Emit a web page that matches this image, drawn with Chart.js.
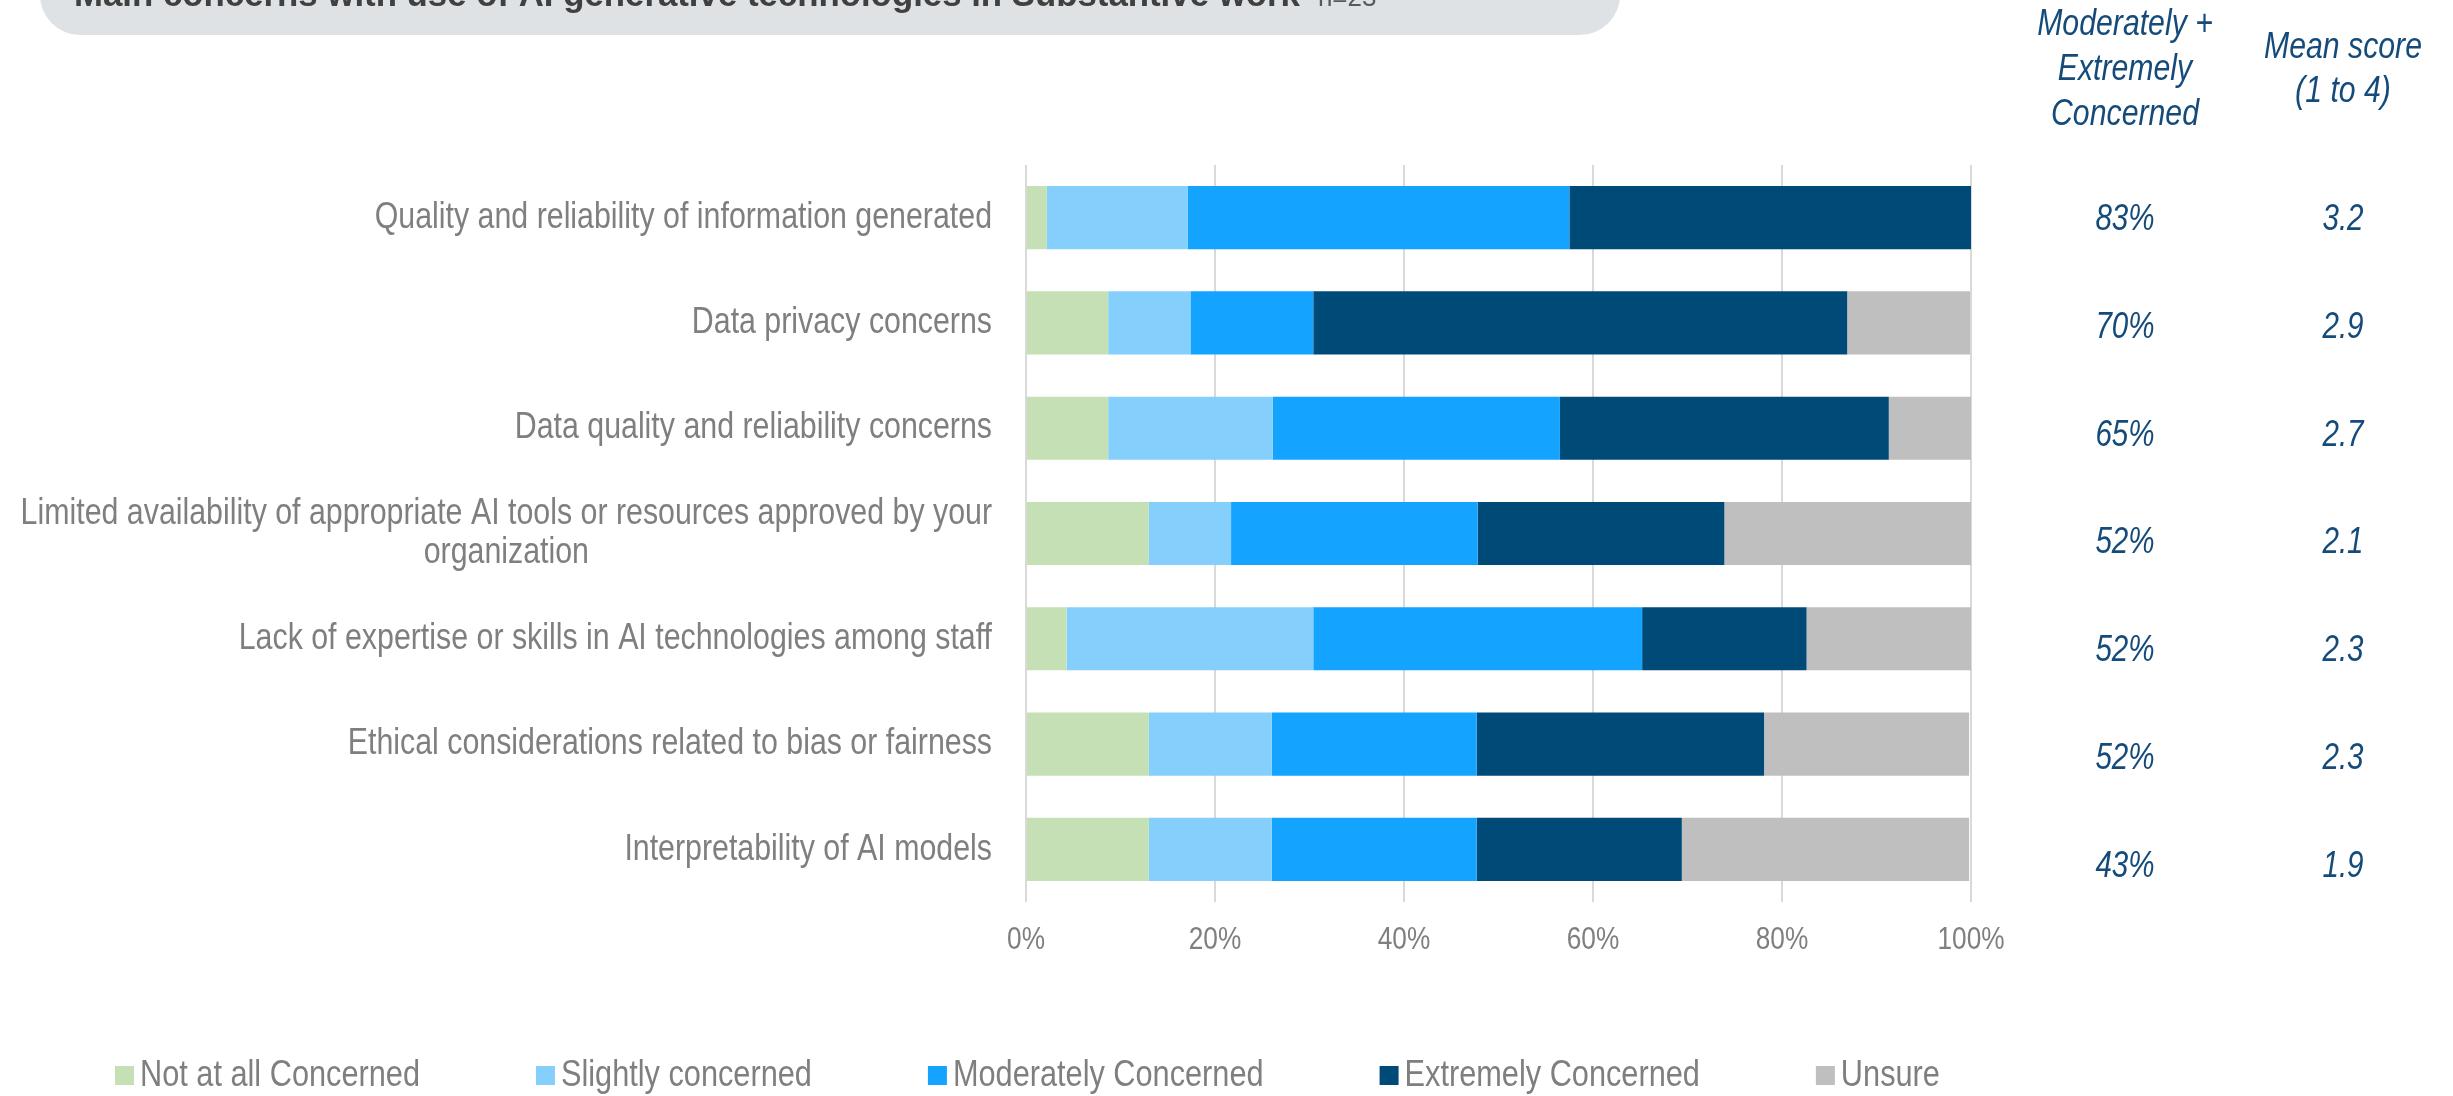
<!DOCTYPE html>
<html>
<head>
<meta charset="utf-8">
<script src="https://cdn.jsdelivr.net/npm/chart.js@4.4.1/dist/chart.umd.min.js"></script>
<style>
  html, body { margin: 0; padding: 0; background: #fff; }
  #wrap { width: 2453px; height: 1096px; }
</style>
</head>
<body>
<div id="wrap"><canvas id="chart" width="2453" height="1096"></canvas></div>
<script>
/* Stacked 100% bar: concerns with AI generative tech in substantive work */

const FONT = '"Liberation Sans", Arial, sans-serif';

// ---- data ----
const categories = [
  ["Quality and reliability of information generated"],
  ["Data privacy concerns"],
  ["Data quality and reliability concerns"],
  ["Limited availability of appropriate AI tools or resources approved by your", "organization"],
  ["Lack of expertise or skills in AI technologies among staff"],
  ["Ethical considerations related to bias or fairness"],
  ["Interpretability of AI models"],
];
const notAtAll   = [2.2, 8.7, 8.7, 13.0, 4.3, 13.0, 13.0];
const slightly   = [14.9, 8.7, 17.4, 8.7, 26.1, 13.0, 13.0];
const moderately = [40.4, 13.0, 30.4, 26.1, 34.8, 21.7, 21.7];
const extremely  = [42.5, 56.5, 34.8, 26.1, 17.4, 30.4, 21.7];
const unsure     = [0, 13.0, 8.7, 26.1, 17.4, 21.7, 30.4];
const modExt     = ["83%", "70%", "65%", "52%", "52%", "52%", "43%"];
const meanScore  = ["3.2", "2.9", "2.7", "2.1", "2.3", "2.3", "1.9"];
const xTicks     = [0, 20, 40, 60, 80, 100];

const TITLE = "Main concerns with use of AI generative technologies in Substantive work";
const N_NOTE = "n=23";

const series = [
  { label: "Not at all Concerned", data: notAtAll,   color: "#C5E0B4" },
  { label: "Slightly concerned",   data: slightly,   color: "#84CFFB" },
  { label: "Moderately Concerned", data: moderately, color: "#14A3FF" },
  { label: "Extremely Concerned",  data: extremely,  color: "#004A78" },
  { label: "Unsure",               data: unsure,     color: "#BFBFBF" },
];

const GRAY = "#7F7F7F", NAVY = "#154B7A";
const NARROW = 0.82; // no Arial Narrow here, so squeeze Liberation Sans

function roundRect(c, x, y, w, h, r) {
  c.beginPath();
  c.moveTo(x + r, y); c.arcTo(x + w, y, x + w, y + h, r);
  c.arcTo(x + w, y + h, x, y + h, r); c.arcTo(x, y + h, x, y, r);
  c.arcTo(x, y, x + w, y, r); c.closePath();
}
// horizontally squeezed text; returns drawn width
function text(c, s, x, y, sx) {
  c.save(); c.translate(x, y); c.scale(sx, 1); c.fillText(s, 0, 0); c.restore();
  return c.measureText(s).width * sx;
}

/* everything that is not a bar: title pill, labels, side columns, legend */
const decor = {
  id: "decor",
  afterDraw(chart) {
    const c = chart.ctx, xs = chart.scales.x, ys = chart.scales.y;
    c.save();

    // title pill, cut off at the top edge
    c.fillStyle = "#DFE2E5";
    roundRect(c, 40, -70, 1580, 105, 40); c.fill();
    c.fillStyle = "#404040"; c.textBaseline = "alphabetic"; c.textAlign = "left";
    c.font = `bold 34.8px ${FONT}`;
    const tw = text(c, TITLE, 74, 6, 1);
    c.fillStyle = "#595959"; c.font = `26px ${FONT}`;
    text(c, N_NOTE, 74 + tw + 18, 6, 1);

    // x tick labels
    c.fillStyle = GRAY; c.font = `32px ${FONT}`; c.textAlign = "center"; c.textBaseline = "middle";
    xTicks.forEach(v => text(c, v + "%", xs.getPixelForValue(v), 940, NARROW));

    // category labels, right edge at 992, extra lines centred under the first
    c.font = `37px ${FONT}`;
    categories.forEach((lines, i) => {
      const cy = ys.getPixelForValue(i);
      const w = Math.max(...lines.map(l => c.measureText(l).width)) * NARROW;
      const cx = 992 - w / 2, lh = 39;
      lines.forEach((l, k) => text(c, l, cx, cy + (k - (lines.length - 1) / 2) * lh, NARROW));
    });

    // side columns
    c.fillStyle = NAVY; c.font = `italic 36px ${FONT}`; c.textBaseline = "alphabetic";
    ["Moderately +", "Extremely", "Concerned"].forEach((t, k) => text(c, t, 2125, 35 + k * 45, 0.84));
    ["Mean score", "(1 to 4)"].forEach((t, k) => text(c, t, 2343, 58 + k * 44, 0.84));
    c.font = `italic 37px ${FONT}`; c.textBaseline = "middle";
    const y0 = ys.getPixelForValue(0) + 2;
    modExt.forEach((t, i) => text(c, t, 2125, y0 + i * 107.8, 0.8));
    meanScore.forEach((t, i) => text(c, t, 2343, y0 + i * 107.8, 0.8));

    // legend
    let lx = 115;
    c.font = `37px ${FONT}`; c.textAlign = "left";
    for (const s of series) {
      c.fillStyle = s.color; c.fillRect(lx, 1066, 19, 19);
      c.fillStyle = GRAY;
      lx += 25 + text(c, s.label, lx + 25, 1076, 0.83) + 116;
    }
    c.restore();
  },
};

new Chart(document.getElementById("chart"), {
  type: "bar",
  data: {
    labels: categories.map(l => l.join(" ")),
    datasets: series.map(s => ({
      label: s.label, data: s.data, backgroundColor: s.color,
      barPercentage: 0.6, categoryPercentage: 1, borderWidth: 0,
    })),
  },
  options: {
    indexAxis: "y", responsive: false, animation: false, devicePixelRatio: 1,
    layout: { padding: { left: 1026, right: 482, top: 165, bottom: 134 } },
    plugins: { legend: { display: false }, tooltip: { enabled: false } },
    scales: {
      x: {
        stacked: true, min: 0, max: 100,
        afterBuildTicks: (s) => { s.ticks = xTicks.map(v => ({ value: v })); },
        afterFit: (s) => { s.height = 60; },
        border: { display: false },
        grid: { color: "#D9D9D9", lineWidth: 2, drawTicks: false },
        ticks: { display: false },
      },
      y: {
        stacked: true,
        afterFit: (s) => { s.width = 0; },
        border: { display: false },
        grid: { display: false },
        ticks: { display: false },
      },
    },
  },
  plugins: [decor],
});
</script>
</body>
</html>
